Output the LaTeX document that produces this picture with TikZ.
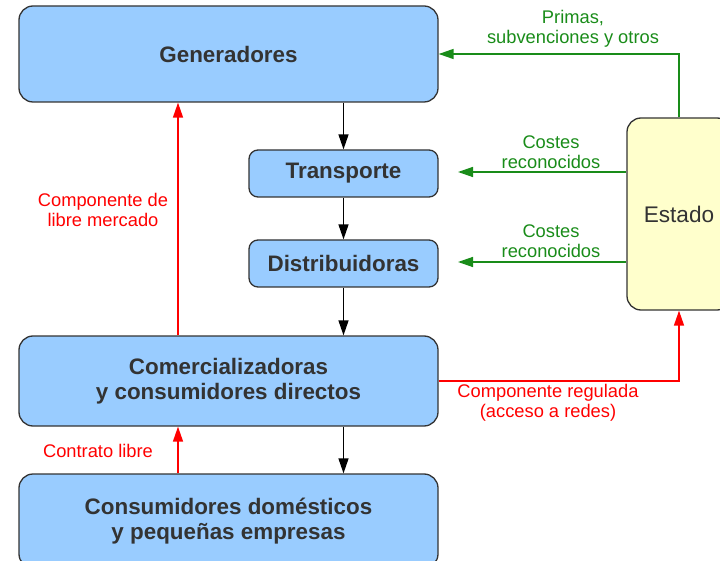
\documentclass[tikz,border=0pt]{standalone}
\usepackage{fontspec}
\setmainfont{Liberation Sans}
\usepackage{tikz}
\usetikzlibrary{arrows.meta,calc,positioning}
\definecolor{boxblue}{rgb}{0.6, 0.8, 1.0}
\definecolor{paleyellow}{rgb}{1.0, 1.0, 0.8}
\definecolor{inkgray}{rgb}{0.2, 0.2, 0.2}
\definecolor{leafgreen}{rgb}{0.1, 0.55, 0.1}

\begin{document}
\begin{tikzpicture}[x=1pt,y=-1pt]
        \tikzstyle{box}=[draw=inkgray,line width=1.3pt,fill=boxblue,rounded corners=14pt,text=inkgray,font=\fontsize{22.4}{25}\selectfont\bfseries,align=center,inner sep=0pt]
        \tikzstyle{smallbox}=[box,rounded corners=9pt]
        \tikzstyle{flow}=[line width=1.4pt,-{Triangle[length=15pt,width=10pt]}]
        \tikzstyle{greentext}=[text=leafgreen,font=\fontsize{18.3}{20.5}\selectfont,align=center]
        \tikzstyle{redtext}=[text=red,font=\fontsize{18.3}{20.5}\selectfont,align=center]
        \useasboundingbox (0,0) rectangle (720,561);
        % Boxes
        \node[box,minimum width=419pt,minimum height=96pt] (gen) at (228.5,54) {Generadores};
        \node[smallbox,minimum width=189pt,minimum height=47pt] (trans) at (343.5,173.5) {Transporte};
        \node[smallbox,minimum width=189pt,minimum height=47pt] (dist) at (343.5,263.5) {Distribuidoras};
        \node[box,minimum width=419pt,minimum height=90pt] (com) at (228.5,381) {Comercializadoras\\y consumidores directos};
        \node[box,minimum width=419pt,minimum height=94pt] (dom) at (228.5,521) {Consumidores domésticos\\y pequeñas empresas};
        \node[box,fill=paleyellow,font=\fontsize{22.6}{25}\selectfont,minimum width=104pt,minimum height=192pt] (est) at (679,214) {Estado};
        % x of the red up-going lines and end of the green ones
        \coordinate (rx) at (178,0);
        \coordinate (gx) at (458,0);
        % Black flow downwards
        \draw[flow] (gen.south -| trans.north) -- (trans.north);
        \draw[flow] (trans.south) -- (dist.north);
        \draw[flow] (dist.south) -- (com.north -| dist.south);
        \draw[flow] (com.south -| dist.south) -- (dom.north -| dist.south);
        % Red payments
        \draw[flow,red] (com.north -| rx) -- (gen.south -| rx);
        \draw[flow,red] (dom.north -| rx) -- (com.south -| rx);
        \draw[flow,red] (com.east) -- (com.east -| est.south) -- (est.south);
        % Green payments from the state
        \draw[flow,leafgreen] (est.north) |- (gen.east);
        \draw[flow,leafgreen] (est.west |- 0,172) -- (gx |- 0,172);
        \draw[flow,leafgreen] (est.west |- 0,262) -- (gx |- 0,262);
        % Labels
        \node[greentext] (primas) at (573,29) {Primas,\\subvenciones y otros};
        \node[greentext] (costes1) at (551,152) {Costes\\reconocidos};
        \node[greentext] (costes2) at (551,241) {Costes\\reconocidos};
        \node[redtext] (libre) at (103,210) {Componente de\\libre mercado};
        \node[redtext] (contrato) at (98,451) {Contrato libre};
        \node[redtext] (regulada) at (548,403) {Componente regulada\\(acceso a redes)};
    \end{tikzpicture}
\end{document}
